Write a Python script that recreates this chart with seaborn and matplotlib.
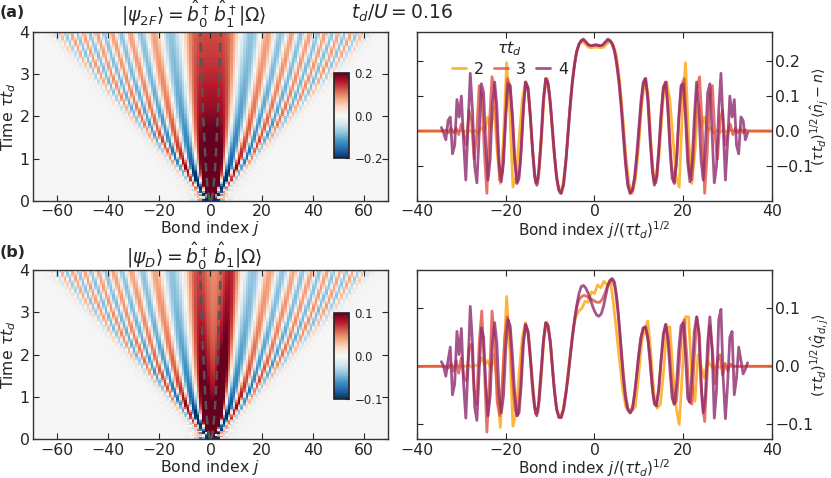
import numpy as np
import matplotlib
matplotlib.use("Agg")
import matplotlib.pyplot as plt
import seaborn as sns

# ---- data ------------------------------------------------------------------
TAUS = [2, 3, 4]
LINE_COLORS = {2: "#fca50a", 3: "#e0503f", 4: "#8e2a6e"}

# bond index ranges sampled for each tau (x = j / sqrt(tau))
J_TAU2 = np.arange(-57, 58)
J_TAU3 = np.arange(-69, 70)
J_TAU4 = np.arange(-69, 70)

# panel (a): (tau t_d)^{1/2} <n_j - n>
dens_tau2 = [
    0.0, 0.0, 0.0, 0.0, 0.0, 0.0, 0.0, 0.0, 0.0, 0.0,
    0.0, 0.0, 0.0, 0.0, 0.0, 0.002, -0.002, 0.003, -0.003, 0.002,
    -0.005, 0.010, 0.000, 0.040, 0.010, 0.070, -0.060, -0.150, -0.020, 0.195,
    0.060, -0.160, -0.130, -0.020, 0.090, 0.140, 0.110, -0.020, -0.130, -0.150,
    -0.040, 0.110, 0.150, 0.070, -0.050, -0.140, -0.178, -0.150, -0.075, 0.040,
    0.145, 0.215, 0.245, 0.257, 0.250, 0.240, 0.238, 0.240,
    0.240, 0.238, 0.240, 0.250, 0.257, 0.245, 0.215, 0.145, 0.040, -0.075,
    -0.150, -0.178, -0.140, -0.050, 0.070, 0.150, 0.110, -0.040, -0.150, -0.130,
    -0.020, 0.110, 0.140, 0.090, -0.020, -0.130, -0.160, 0.060, 0.195, -0.020,
    -0.150, -0.060, 0.070, 0.010, 0.040, 0.000, 0.010, -0.005, 0.002, -0.003,
    0.003, -0.002, 0.002, 0.0, 0.0, 0.0, 0.0, 0.0, 0.0, 0.0,
    0.0, 0.0, 0.0, 0.0, 0.0, 0.0, 0.0,
]
dens_tau3 = [
    0.0, 0.0, 0.0, 0.0, 0.0, 0.0, 0.0, 0.0, 0.0, 0.0, 0.0,
    0.003, -0.005, 0.008, -0.005, 0.008, -0.010, 0.020, -0.010, -0.040, 0.060,
    0.030, -0.080, -0.010, 0.130, 0.100, -0.060, -0.178, 0.020, 0.155, 0.120,
    -0.020, -0.140, -0.120, 0.000, 0.150, 0.130, 0.040, -0.095, -0.145, -0.095,
    0.030, 0.140, 0.125, 0.040, -0.070, -0.148, -0.135, -0.040, 0.085, 0.150,
    0.130, 0.055, -0.040, -0.120, -0.168, -0.178, -0.150, -0.070, 0.030, 0.115,
    0.180, 0.226, 0.250, 0.260, 0.258, 0.251, 0.245, 0.244, 0.246,
    0.246, 0.244, 0.245, 0.251, 0.258, 0.260, 0.250, 0.226, 0.180, 0.115,
    0.030, -0.070, -0.150, -0.178, -0.168, -0.120, -0.040, 0.055, 0.130, 0.150,
    0.085, -0.040, -0.135, -0.148, -0.070, 0.040, 0.125, 0.140, 0.030, -0.095,
    -0.145, -0.095, 0.040, 0.130, 0.150, 0.000, -0.120, -0.140, -0.020, 0.120,
    0.155, 0.020, -0.178, -0.060, 0.100, 0.130, -0.010, -0.080, 0.030, 0.060,
    -0.040, -0.010, 0.020, -0.010, 0.008, -0.005, 0.008, -0.005, 0.003,
    0.0, 0.0, 0.0, 0.0, 0.0, 0.0, 0.0, 0.0, 0.0, 0.0,
]
dens_tau4 = [
    0.010, -0.005, -0.025, 0.030, 0.040, -0.065, -0.040, 0.090, 0.040, 0.100,
    -0.030, -0.140, 0.010, 0.165, 0.060, -0.100, -0.148, -0.010, 0.135, 0.110,
    -0.040, -0.140, -0.080, 0.080, 0.140, 0.070, -0.090, -0.145, -0.090, 0.040,
    0.135, 0.130, 0.040, -0.080, -0.150, -0.135, -0.050, 0.070, 0.140, 0.125,
    0.050, -0.050, -0.130, -0.155, -0.110, -0.020, 0.090, 0.150, 0.140, 0.090,
    0.010, -0.070, -0.135, -0.170, -0.178, -0.155, -0.095, -0.015, 0.070, 0.140,
    0.190, 0.228, 0.248, 0.258, 0.263, 0.256, 0.248, 0.244, 0.244, 0.246,
    0.246, 0.244, 0.244, 0.248, 0.256, 0.263, 0.258, 0.248, 0.228, 0.190,
    0.140, 0.070, -0.015, -0.095, -0.155, -0.178, -0.170, -0.135, -0.070, 0.010,
    0.090, 0.140, 0.150, 0.090, -0.020, -0.110, -0.155, -0.130, -0.050, 0.050,
    0.125, 0.140, 0.070, -0.050, -0.135, -0.150, -0.080, 0.040, 0.130, 0.135,
    0.040, -0.090, -0.145, -0.090, 0.040, 0.140, 0.070, -0.080, -0.140, -0.040,
    0.110, 0.135, -0.010, -0.148, -0.100, 0.060, 0.165, 0.010, -0.140, -0.030,
    0.100, 0.040, 0.090, -0.040, -0.065, 0.040, 0.030, -0.025, -0.005,
]

# panel (b): (tau t_d)^{1/2} <q_{d,j}>
qd_tau2 = [
    0.0, 0.0, 0.0, 0.0, 0.0, 0.0, 0.0, 0.0, 0.0, 0.0,
    0.0, 0.0, 0.0, 0.0, 0.0, 0.0, 0.0, 0.002, -0.002, 0.002,
    0.000, 0.015, 0.003, 0.010, -0.005, 0.020, -0.030, -0.105, 0.000, 0.120,
    0.030, -0.103, -0.080, -0.010, 0.050, 0.075, 0.055, -0.010, -0.070, -0.080,
    -0.020, 0.055, 0.075, 0.040, -0.030, -0.075, -0.088, -0.075, -0.040, 0.010,
    0.055, 0.085, 0.095, 0.100, 0.112, 0.110, 0.128, 0.125,
    0.140, 0.135, 0.146, 0.140, 0.148, 0.110, 0.060, 0.010, -0.040, -0.070,
    -0.075, -0.075, -0.070, -0.020, 0.040, 0.065, 0.078, 0.020, -0.050, -0.072,
    -0.065, -0.010, 0.065, 0.068, -0.010, -0.070, -0.100, -0.010, 0.085, 0.085,
    -0.020, -0.060, 0.020, 0.000, -0.020, 0.010, 0.002, -0.005, 0.002, -0.002,
    0.0, 0.0, 0.0, 0.0, 0.0, 0.0, 0.0, 0.0, 0.0, 0.0,
    0.0, 0.0, 0.0, 0.0, 0.0, 0.0, 0.0,
]
qd_tau3 = [
    0.0, 0.0, 0.0, 0.0, 0.0, 0.0, 0.0, 0.0, 0.0, 0.0, 0.0,
    0.000, -0.003, 0.005, -0.008, 0.010, -0.012, 0.015, -0.020, -0.025, 0.030,
    0.038, -0.040, -0.065, 0.040, 0.095, 0.000, -0.113, -0.030, 0.095, 0.050,
    -0.060, -0.085, -0.030, 0.050, 0.085, 0.060, -0.020, -0.075, -0.085, -0.040,
    0.035, 0.072, 0.060, 0.010, -0.050, -0.082, -0.070, -0.015, 0.040, 0.075,
    0.068, 0.030, -0.025, -0.068, -0.087, -0.088, -0.072, -0.042, -0.005, 0.035,
    0.072, 0.100, 0.115, 0.120, 0.122, 0.120, 0.117, 0.115, 0.112,
    0.110, 0.110, 0.115, 0.125, 0.137, 0.146, 0.148, 0.135, 0.100, 0.050,
    0.000, -0.045, -0.072, -0.080, -0.068, -0.035, 0.010, 0.048, 0.066, 0.066,
    0.040, -0.010, -0.055, -0.068, -0.040, 0.010, 0.055, 0.072, 0.040, -0.020,
    -0.065, -0.060, 0.000, 0.060, 0.080, 0.020, -0.060, -0.065, 0.020, 0.085,
    0.050, -0.060, -0.095, -0.010, 0.070, 0.030, -0.030, 0.010, 0.020, -0.015,
    0.005, -0.008, 0.004,
    0.0, 0.0, 0.0, 0.0, 0.0, 0.0, 0.0, 0.0, 0.0, 0.0, 0.0, 0.0, 0.0, 0.0, 0.0, 0.0,
]
qd_tau4 = [
    0.008, 0.000, -0.017, 0.010, 0.033, -0.049, -0.030, 0.060, 0.020, 0.065,
    -0.030, -0.089, 0.000, 0.103, 0.040, -0.070, -0.093, -0.010, 0.066, 0.050,
    -0.030, -0.085, -0.050, 0.040, 0.075, 0.040, -0.050, -0.080, -0.050, 0.030,
    0.080, 0.070, 0.020, -0.045, -0.085, -0.080, -0.030, 0.040, 0.072, 0.060,
    0.020, -0.030, -0.070, -0.085, -0.060, -0.010, 0.045, 0.075, 0.070, 0.045,
    0.000, -0.045, -0.075, -0.088, -0.088, -0.075, -0.050, -0.020, 0.015, 0.050,
    0.080, 0.105, 0.125, 0.137, 0.139, 0.135, 0.127, 0.117, 0.105, 0.095,
    0.088, 0.086, 0.090, 0.102, 0.120, 0.138, 0.148, 0.151, 0.145, 0.120,
    0.080, 0.030, -0.020, -0.055, -0.075, -0.080, -0.075, -0.050, -0.015, 0.020,
    0.050, 0.066, 0.068, 0.050, 0.015, -0.035, -0.065, -0.068, -0.040, 0.010,
    0.055, 0.072, 0.050, -0.005, -0.055, -0.065, -0.030, 0.030, 0.070, 0.075,
    0.020, -0.055, -0.062, -0.010, 0.060, 0.085, 0.060, -0.030, -0.080, -0.050,
    0.040, 0.085, 0.030, -0.089, -0.040, 0.080, 0.098, -0.020, -0.090, -0.030,
    0.050, 0.060, -0.049, -0.020, 0.033, 0.010, -0.013, -0.005, 0.006,
]

# heat-map model parameters (light-cone spreading)
LIGHTCONE_V = 15.5
J_SITES = np.arange(-69, 70)
T_ROWS = np.linspace(0.02, 3.98, 100)


def spreading_map(profile_fn):
    """t^-1/2 * F(j / sqrt(t)), cut off at the light cone |j| = v t."""
    T, J = np.meshgrid(T_ROWS, J_SITES, indexing="ij")
    x = J / np.sqrt(T)
    dist = np.abs(J) - LIGHTCONE_V * T
    env = 1.0 / (1.0 + np.exp(dist / 1.3))
    env *= 1.0 + 0.45 * np.exp(-T / 1.2) * np.exp(-((dist + 2.0) / 2.5) ** 2)
    env += 0.15 * np.exp(-np.clip(dist, 0, None) / 4.0) * (dist > 0)
    return profile_fn(x) * env / np.sqrt(T)


map_a = spreading_map(
    lambda x: 0.16 * np.cos(x ** 2 / 20.0) + 0.10 * np.exp(-(x / 5.3) ** 6)
)
map_b = spreading_map(
    lambda x: 0.08 * np.cos((x - 0.3) ** 2 / 20.0)
    + 0.06 * np.exp(-((x + 2.7) / 2.2) ** 2)
    + 0.09 * np.exp(-((x - 3.9) / 2.0) ** 2)
)

# ---- style -----------------------------------------------------------------
sns.set_theme(style="ticks")
plt.rcParams["font.family"] = ["DejaVu Sans"]
plt.rcParams.update({
    "font.size": 11.3,
    "axes.labelsize": 11.3,
    "xtick.labelsize": 11.3,
    "ytick.labelsize": 11.3,
    "xtick.direction": "in",
    "ytick.direction": "in",
    "axes.edgecolor": "#333333",
    "axes.linewidth": 1.0,
    "mathtext.fontset": "dejavusans",
})

fig = plt.figure(figsize=(8.31, 4.78), dpi=100)

ax_pos = {
    "a_map": [0.0397, 0.5795, 0.4272, 0.3542],
    "a_line": [0.5018, 0.5795, 0.4272, 0.3542],
    "b_map": [0.0397, 0.0815, 0.4272, 0.3530],
    "b_line": [0.5018, 0.0815, 0.4272, 0.3530],
}
cax_pos = {"a": [0.402, 0.669, 0.018, 0.178], "b": [0.402, 0.165, 0.018, 0.180]}


def draw_map(key, data, vlim):
    ax = fig.add_axes(ax_pos[key + "_map"])
    im = ax.imshow(
        data, origin="lower", aspect="auto", cmap="RdBu_r",
        vmin=-vlim, vmax=vlim, extent=[-69.5, 69.5, 0, 4],
        interpolation="nearest",
    )
    tt = np.linspace(0, 4, 80)
    for sgn in (-1, 1):
        ax.plot(sgn * 2 * np.sqrt(tt), tt, ls=(0, (3.5, 2.5)), color="#555555", lw=1.8)
    ax.set_xlim(-69.5, 69.5)
    ax.set_ylim(0, 4)
    ax.set_xticks([-60, -40, -20, 0, 20, 40, 60])
    ax.set_yticks([0, 1, 2, 3, 4])
    ax.tick_params(top=True, right=True, length=4, width=0.8, pad=2.5)
    ax.set_xlabel("Bond index $j$", labelpad=0)
    ax.set_ylabel(r"Time $\tau t_d$", labelpad=1)

    cax = fig.add_axes(cax_pos[key])
    cb = fig.colorbar(im, cax=cax, ticks=[-vlim, 0, vlim])
    cb.ax.tick_params(labelsize=8.5, direction="in", length=3, width=0.8, pad=4)
    cb.outline.set_linewidth(1.2)
    cb.outline.set_edgecolor("#222222")
    return ax


def draw_lines(key, series, ylim, yticks, ylabel, legend):
    ax = fig.add_axes(ax_pos[key + "_line"])
    for tau, jj, vals in series:
        sns.lineplot(
            x=jj / np.sqrt(tau), y=np.asarray(vals), ax=ax, sort=False,
            color=LINE_COLORS[tau], lw=2.0, alpha=0.8, label=str(tau),
            legend=legend,
        )
    ax.set_xlim(-40, 40)
    ax.set_ylim(*ylim)
    ax.set_xticks([-40, -20, 0, 20, 40])
    ax.set_yticks(yticks)
    ax.tick_params(left=True, right=True, top=True, labelleft=False,
                   labelright=True, length=4, width=0.8, pad=2.5)
    ax.set_xlabel(r"Bond index $j/(\tau t_d)^{1/2}$", labelpad=0, fontsize=11)
    ax.set_ylabel(ylabel, fontsize=10.3)
    ax.yaxis.set_label_position("right")
    ax.yaxis.set_label_coords(1.134, 0.5)
    ax.yaxis.label.set_va("center")
    ax.yaxis.label.set_ha("center")
    if legend:
        ax.legend(
            title=r"$\tau t_d$", ncol=3, frameon=False, loc="upper left",
            bbox_to_anchor=(0.075, 1.0), handlelength=0.9, handletextpad=0.5,
            columnspacing=0.6, fontsize=11.5, title_fontsize=11.5,
            borderaxespad=0.1, labelspacing=0.2,
        )
    else:
        leg = ax.get_legend()
        if leg is not None:
            leg.remove()
    return ax


draw_map("a", map_a, 0.2)
draw_map("b", map_b, 0.1)

draw_lines(
    "a",
    [(2, J_TAU2, dens_tau2), (3, J_TAU3, dens_tau3), (4, J_TAU4, dens_tau4)],
    (-0.2, 0.284), [-0.1, 0.0, 0.1, 0.2],
    r"$(\tau t_d)^{1/2}\langle\hat{n}_j - n\rangle$", True,
)
draw_lines(
    "b",
    [(2, J_TAU2, qd_tau2), (3, J_TAU3, qd_tau3), (4, J_TAU4, qd_tau4)],
    (-0.125, 0.165), [-0.1, 0.0, 0.1],
    r"$(\tau t_d)^{1/2}\langle\hat{q}_{d,j}\rangle$", False,
)

# panel labels and titles
fig.text(0.0, 0.973, "(a)", fontsize=11.5, fontweight="bold", ha="left", va="center")
fig.text(0.0, 0.471, "(b)", fontsize=11.5, fontweight="bold", ha="left", va="center")
fig.text(0.2335, 0.969, r"$|\psi_{2F}\rangle = \hat{b}_0^\dagger\,\hat{b}_1^\dagger|\Omega\rangle$",
         fontsize=13.5, ha="center", va="center")
fig.text(0.2335, 0.464, r"$|\psi_{D}\rangle = \hat{b}_0^\dagger\,\hat{b}_1|\Omega\rangle$",
         fontsize=13.5, ha="center", va="center")
fig.text(0.484, 0.973, r"$t_d/U = 0.16$", fontsize=13.5, ha="center", va="center")

fig.savefig("out.png", dpi=100)
